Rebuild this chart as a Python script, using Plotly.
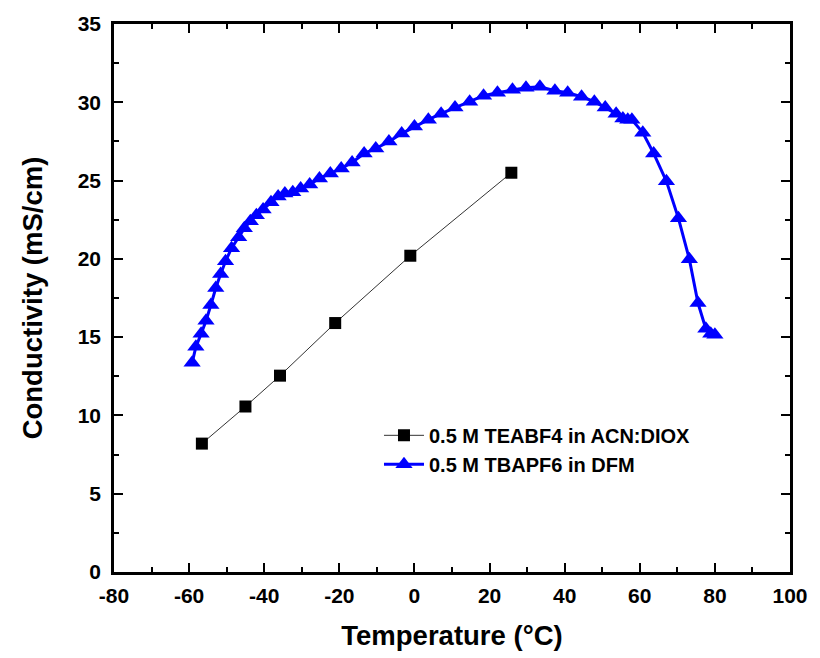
import plotly.graph_objects as go

# 0.5 M TEABF4 in ACN:DIOX
teabf4_temp = [-56.6, -45.0, -35.8, -21.1, -1.1, 25.8]
teabf4_cond = [8.2, 10.57, 12.54, 15.9, 20.2, 25.5]

# 0.5 M TBAPF6 in DFM
tbapf6_temp = [-59.2, -58.2, -56.8, -55.5, -54.2, -52.9, -51.6, -50.3, -48.7, -46.8,
               -45.3, -43.7, -42.1, -40.3, -38.2, -36.3, -34.5, -32.4, -30.3, -27.9,
               -25.3, -22.4, -19.5, -16.6, -13.4, -10.3, -6.8, -3.4, 0.0, 3.7,
               7.1, 10.8, 14.7, 18.4, 22.1, 26.1, 29.7, 33.4, 37.4, 40.8,
               44.5, 47.9, 50.8, 53.7, 55.5, 56.8, 57.9, 60.8, 63.7, 67.1,
               70.3, 73.2, 75.5, 77.6, 78.9, 80.0]
tbapf6_cond = [13.36, 14.38, 15.21, 16.04, 17.05, 18.14, 19.03, 19.85, 20.68, 21.38,
               21.95, 22.40, 22.78, 23.16, 23.61, 23.99, 24.18, 24.25, 24.50, 24.75,
               25.14, 25.45, 25.77, 26.16, 26.73, 27.05, 27.49, 28.0, 28.45, 28.89,
               29.27, 29.66, 30.04, 30.42, 30.61, 30.80, 30.93, 30.99, 30.74, 30.61,
               30.36, 30.04, 29.66, 29.27, 28.96, 28.89, 28.89, 28.06, 26.73, 24.95,
               22.59, 19.98, 17.18, 15.53, 15.21, 15.15]

# Tick positions and labels (hyphen-minus, as printed)
x_ticks = [-80, -60, -40, -20, 0, 20, 40, 60, 80, 100]
x_labels = ["-80", "-60", "-40", "-20", "0", "20", "40", "60", "80", "100"]
y_ticks = [0, 5, 10, 15, 20, 25, 30, 35]
y_labels = ["0", "5", "10", "15", "20", "25", "30", "35"]

FONT = "Liberation Sans, Arial, sans-serif"


def bold(s):
    return "<b>" + s + "</b>"


fig = go.Figure()
fig.add_trace(go.Scatter(
    x=teabf4_temp, y=teabf4_cond, mode="lines+markers",
    name=bold("0.5 M TEABF4 in ACN:DIOX"),
    line=dict(color="#333333", width=1),
    marker=dict(symbol="square", size=12, color="black"),
))
fig.add_trace(go.Scatter(
    x=tbapf6_temp, y=tbapf6_cond, mode="lines+markers",
    name=bold("0.5 M TBAPF6 in DFM"),
    line=dict(color="#0000ff", width=3),
    marker=dict(symbol="triangle-up", size=15, color="#0000ff"),
))

axis_common = dict(
    showline=True, linecolor="black", linewidth=2.5, mirror="allticks",
    ticks="inside", ticklen=9, tickwidth=2, tickcolor="black",
    showgrid=False, zeroline=False,
    tickfont=dict(family=FONT, size=21, color="black"),
)

fig.update_xaxes(
    range=[-80, 100], tickmode="array",
    tickvals=x_ticks, ticktext=[bold(t) for t in x_labels],
    ticklabelstandoff=3,
    minor=dict(dtick=10, tick0=-80, ticks="inside", ticklen=5, tickwidth=2, tickcolor="black"),
    title=dict(text=bold("Temperature (°C)"), standoff=20,
               font=dict(family=FONT, size=27.5, color="black")),
    **axis_common,
)
fig.update_yaxes(
    range=[0, 35], tickmode="array",
    tickvals=y_ticks, ticktext=[bold(t) for t in y_labels],
    ticklabelstandoff=6,
    minor=dict(dtick=2.5, tick0=0, ticks="inside", ticklen=5, tickwidth=2, tickcolor="black"),
    title=dict(text=bold("Conductivity (mS/cm)"), standoff=28,
               font=dict(family=FONT, size=27.5, color="black")),
    **axis_common,
)

fig.update_layout(
    width=820, height=658,
    margin=dict(l=114, r=23, t=22, b=86),
    paper_bgcolor="white", plot_bgcolor="white",
    showlegend=True,
    legend=dict(
        x=0.392, y=0.285, xanchor="left", yanchor="top",
        bgcolor="rgba(0,0,0,0)", borderwidth=0,
        font=dict(family=FONT, size=20, color="black"),
        tracegroupgap=0, itemwidth=40,
    ),
)

fig.write_html("out.html")
